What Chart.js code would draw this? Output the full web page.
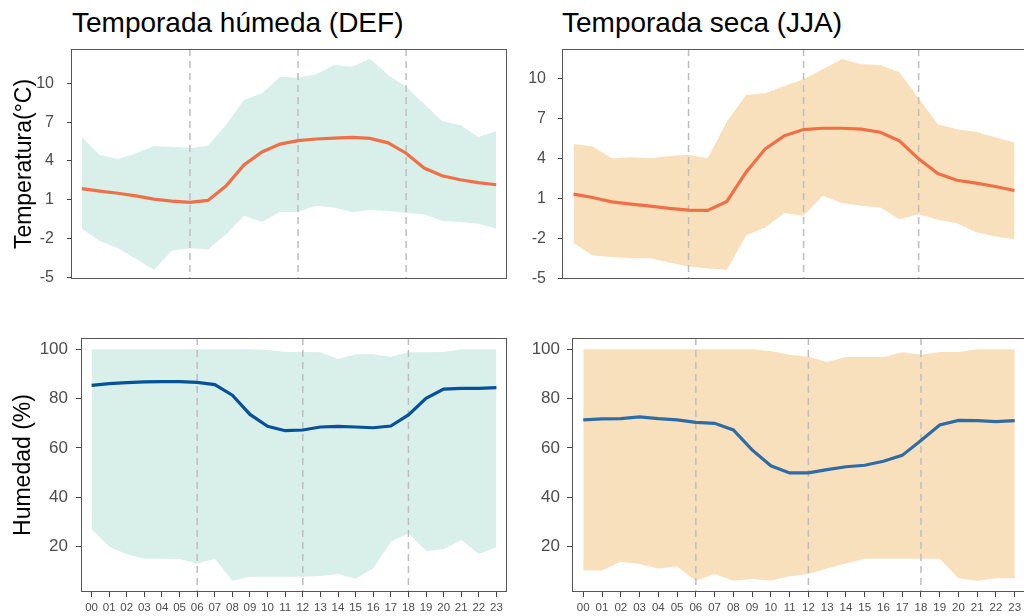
<!DOCTYPE html>
<html>
<head>
<meta charset="utf-8">
<script src="https://cdn.jsdelivr.net/npm/chart.js@4.4.1/dist/chart.umd.min.js"></script>
<style>
  body { margin: 0; background: #fff; width: 1024px; height: 616px; position: relative; overflow: hidden;
         font-family: 'Liberation Sans', Arial, sans-serif; }
  canvas { position: absolute; }
  .title { position: absolute; top: 9px; font-size: 28px; line-height: 27px; color: #000; white-space: nowrap; }
</style>
</head>
<body>
<div class="title" style="left:72px">Temporada húmeda (DEF)</div>
<div class="title" style="left:562px">Temporada seca (JJA)</div>
<canvas id="tempWet" width="512" height="250" style="left:0;top:40px"></canvas>
<canvas id="tempDry" width="520" height="250" style="left:512px;top:40px"></canvas>
<canvas id="humWet" width="512" height="296" style="left:0;top:320px"></canvas>
<canvas id="humDry" width="520" height="296" style="left:512px;top:320px"></canvas>
<script>
const hours = ['00','01','02','03','04','05','06','07','08','09','10','11',
               '12','13','14','15','16','17','18','19','20','21','22','23'];
const guideHours = [6, 12, 18];
const tempTicks = [-5, -2, 1, 4, 7, 10];
const humTicks = [20, 40, 60, 80, 100];

// temperatura, temporada humeda
const tempWetMean = [1.86,1.67,1.5,1.3,1.05,0.9,0.8,0.95,2.06,3.7,4.7,5.3,5.57,5.7,5.77,5.82,5.75,5.4,4.6,3.45,2.86,2.55,2.32,2.16];
const tempWetHigh = [5.85,4.46,4.15,4.59,5.15,5.1,5.0,5.18,6.78,8.71,9.23,10.52,10.44,10.7,11.42,11.29,11.9,10.64,9.74,8.4,7.09,6.78,5.85,6.31];
const tempWetLow = [-1.24,-2.19,-2.76,-3.56,-4.43,-2.94,-2.76,-2.84,-1.68,-0.23,-0.72,0.05,0.05,0.54,0.41,0.03,0.2,0.13,-0.03,-0.13,-0.64,-0.72,-0.85,-1.24];

// temperatura, temporada seca
const tempDryMean = [1.33,1.08,0.75,0.58,0.43,0.26,0.13,0.11,0.78,2.97,4.72,5.71,6.16,6.26,6.26,6.19,5.96,5.32,3.97,2.87,2.37,2.15,1.9,1.6];
const tempDryHigh = [5.09,4.89,4.02,4.09,4.02,4.19,4.27,4.02,6.76,8.75,8.88,9.43,9.93,10.67,11.45,11.05,11.0,10.45,8.5,6.56,6.19,5.99,5.59,5.19];
const tempDryLow = [-2.33,-3.27,-3.37,-3.46,-3.46,-3.78,-4.08,-4.23,-4.33,-1.76,-1.16,-0.09,-0.29,1.2,0.66,0.46,0.33,-0.54,-0.17,-0.59,-0.84,-1.53,-1.84,-2.04];

// humedad, temporada humeda
const humWetMean = [85.4,86.1,86.5,86.8,86.9,86.9,86.6,85.7,81.4,73.6,68.8,67.0,67.3,68.5,68.8,68.5,68.2,68.9,73.4,80.1,83.9,84.2,84.2,84.5];
const humWetHigh = [100,100,100,100,100,100,100,100,100,100,99.7,98.9,98.9,98.8,96.1,98.0,98.0,97.0,98.8,98.8,98.9,100,100,100];
const humWetLow = [27.0,20.0,16.9,15.1,15.1,15.0,13.2,15.0,6.2,7.8,7.8,7.8,7.8,8.1,8.9,7.0,11.1,22.0,25.4,18.2,18.9,22.7,17.0,19.7];

// humedad, temporada seca
const humDryMean = [71.4,71.8,71.9,72.6,71.9,71.4,70.4,70.0,67.3,59.2,52.8,49.9,49.9,51.2,52.4,53.0,54.6,57.0,63.0,69.3,71.2,71.1,70.7,71.1];
const humDryHigh = [100,100,100,100,100,100,100,100,100,100,99.3,97.8,97.0,94.9,96.9,96.9,96.9,98.8,97.8,98.9,98.9,100,100,100];
const humDryLow = [10.3,10.3,13.9,13.0,11.1,11.9,6.2,8.9,6.2,6.9,6.2,8.0,8.9,11.1,13.2,15.1,15.1,15.1,15.1,15.1,7.2,6.2,7.2,7.2];

Chart.defaults.font.family = "'Liberation Sans', Arial, sans-serif";

// lineas guia discontinuas + marco del panel
const frame = {
  id: 'frame',
  afterDatasetDraw(chart, args) {
    if (args.index !== 2) return;
    const {ctx, chartArea: a, scales: {x}} = chart;
    ctx.save();
    ctx.strokeStyle = '#bdbdbd';
    ctx.lineWidth = 1.5;
    ctx.setLineDash([7, 5]);
    guideHours.forEach(h => {
      const px = x.getPixelForValue(h);
      ctx.beginPath();
      ctx.moveTo(px, a.top);
      ctx.lineTo(px, a.bottom);
      ctx.stroke();
    });
    ctx.restore();
  },
  afterDraw(chart) {
    const {ctx, chartArea: a} = chart;
    ctx.save();
    ctx.strokeStyle = '#555';
    ctx.lineWidth = 1;
    ctx.strokeRect(a.left + 0.5, a.top + 0.5, a.width - 1, a.height - 1);
    ctx.restore();
  }
};

const pts = arr => arr.map((v, i) => ({x: i, y: v}));

function panel(id, cfg) {
  const x = {
    type: 'linear', min: -0.6, max: 23.6, display: cfg.showX,
    afterBuildTicks: s => { s.ticks = hours.map((h, i) => ({value: i})); },
    grid: {drawOnChartArea: false, tickLength: 5, tickColor: '#444'},
    border: {display: false},
    ticks: {autoSkip: false, maxRotation: 0, padding: 4, color: '#4d4d4d', font: {size: 11.5},
            callback: v => hours[v]}
  };
  if (cfg.showX) x.afterFit = s => { s.height = 24; s.paddingLeft = 0; s.paddingRight = 0; };

  const y = {
    type: 'linear', min: cfg.min, max: cfg.max,
    afterBuildTicks: s => { s.ticks = cfg.ticks.map(v => ({value: v})); },
    // ancho fijo del eje y sin relleno extra arriba/abajo
    afterFit: s => { s.width = cfg.axisW; s.paddingTop = 0; s.paddingBottom = 0; },
    grid: {drawOnChartArea: false, tickLength: cfg.tickLen, tickColor: '#444'},
    border: {display: false},
    ticks: {padding: cfg.tickPad, color: '#4d4d4d', font: {size: cfg.tickSize}, callback: v => String(v)},
    title: {display: !!cfg.yTitle, text: cfg.yTitle, color: '#000', font: {size: 23},
            padding: {top: cfg.titlePad || 0, bottom: 0}}
  };

  new Chart(document.getElementById(id), {
    type: 'line',
    data: {
      datasets: [
        {data: pts(cfg.mean), borderColor: cfg.line, borderWidth: 3.2, pointRadius: 0, fill: false, tension: 0},
        {data: pts(cfg.low), borderColor: 'transparent', borderWidth: 0, pointRadius: 0, fill: false},
        {data: pts(cfg.high), borderColor: 'transparent', borderWidth: 0, pointRadius: 0, fill: 1,
         backgroundColor: cfg.band}
      ]
    },
    options: {
      responsive: false,
      animation: false,
      events: [],
      layout: {padding: cfg.pad},
      plugins: {legend: {display: false}, tooltip: {enabled: false}},
      scales: {x, y}
    },
    plugins: [frame]
  });
}

panel('tempWet', {
  mean: tempWetMean, high: tempWetHigh, low: tempWetLow, ticks: tempTicks,
  min: -5.13, max: 12.66, showX: false, line: '#EF6F47', band: '#D9F0EA',
  pad: {left: 0, top: 9, right: 5, bottom: 11}, axisW: 71, tickLen: 4, tickPad: 13, tickSize: 16,
  yTitle: 'Temperatura(°C)', titlePad: 11.2
});
panel('tempDry', {
  mean: tempDryMean, high: tempDryHigh, low: tempDryLow, ticks: tempTicks,
  min: -5.02, max: 12.19, showX: false, line: '#EF6F47', band: '#F9E0BC',
  pad: {left: 0, top: 9, right: 6, bottom: 11}, axisW: 50, tickLen: 4, tickPad: 12, tickSize: 16
});
panel('humWet', {
  mean: humWetMean, high: humWetHigh, low: humWetLow, ticks: humTicks,
  min: 1.6, max: 104.6, showX: true, line: '#07519A', band: '#D9F0EA',
  pad: {left: 0, top: 18, right: 5, bottom: 0}, axisW: 81, tickLen: 5, tickPad: 8, tickSize: 17,
  yTitle: 'Humedad (%)', titlePad: 10.2
});
panel('humDry', {
  mean: humDryMean, high: humDryHigh, low: humDryLow, ticks: humTicks,
  min: 1.6, max: 104.6, showX: true, line: '#2F6CA4', band: '#F9E0BC',
  pad: {left: 0, top: 18, right: 6, bottom: 0}, axisW: 60, tickLen: 5, tickPad: 7, tickSize: 17
});
</script>
</body>
</html>
